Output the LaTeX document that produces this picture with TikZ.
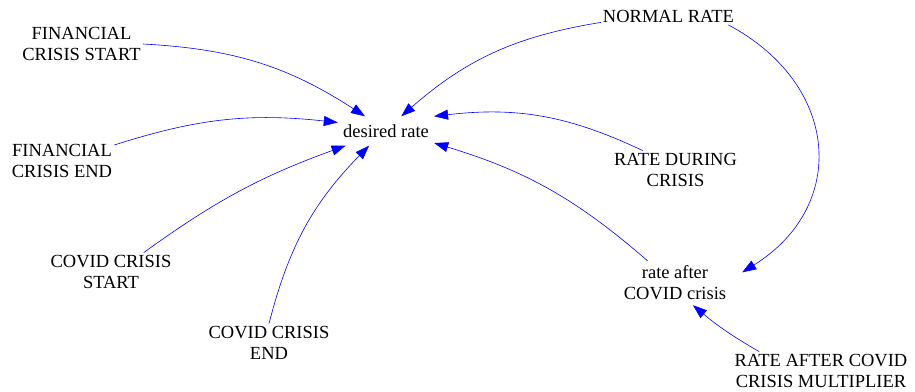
\documentclass[tikz,border=0pt]{standalone}
\usepackage{fontspec}
\setmainfont{Liberation Serif}
\newfontfamily\policevensim{Liberation Serif}
\usetikzlibrary{arrows.meta}

\tikzset{ grandeur/.style={align=center, inner sep=2pt, font=\policevensim\fontsize{18.5}{21}\selectfont} }
\tikzset{ lien/.style={draw=blue, line width=0.6pt, -{Triangle[length=14pt,width=10pt]}} }

\begin{document}
\begin{tikzpicture}[x=1pt, y=1pt]
  \useasboundingbox (0,0) rectangle (915,-391);
	% les grandeurs
	\node[grandeur] (fcs) at (81.5,-44) {FINANCIAL\\CRISIS START};
	\node[grandeur] (fce) at (62,-161) {FINANCIAL\\CRISIS END};
	\node[grandeur] (ccs) at (111,-271.5) {COVID CRISIS\\START};
	\node[grandeur] (cce) at (269,-342.5) {COVID CRISIS\\END};
	\node[grandeur, minimum width=96, minimum height=29] (dr) at (386,-131) {desired rate};
	\node[grandeur] (nr) at (668.5,-16.5) {NORMAL RATE};
	\node[grandeur] (rdc) at (675.5,-169.5) {RATE DURING\\CRISIS};
	\node[grandeur, minimum width=134, minimum height=44] (rac) at (675,-283) {rate after\\COVID crisis};
	\node[grandeur] (racm) at (821,-370.5) {RATE AFTER COVID\\CRISIS MULTIPLIER};
	% les liens
	\draw[lien] (fcs.east) to[bend left=15] (dr.145);
	\draw[lien] (fce.17) to[bend left=12] (dr.170);
	\draw[lien] (ccs.30) to[bend left=8] (dr.200);
	\draw[lien] (cce.north) to[bend left=15] (dr.221);
	\draw[lien] (nr.185) to[bend right=16] (dr.44);
	\draw[lien] (rdc.150) to[bend right=16] (dr.17);
	\draw[lien] (rac.141) to[bend right=12] (dr.-14);
	\draw[lien] (nr.-8) to[out=-28, in=32, looseness=1.3] (rac.9);
	\draw[lien] (racm.163) to[bend left=5] (rac.-51);
\end{tikzpicture}
\end{document}
